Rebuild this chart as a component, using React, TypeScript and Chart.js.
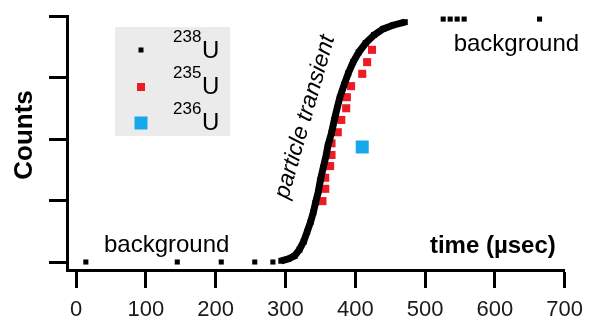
import React, { useEffect, useRef } from 'react';
import { Chart, registerables } from 'chart.js';

Chart.register(...registerables);

const FONT = "'Liberation Sans', Arial, Helvetica, sans-serif";

// axis ticks
const X_TICKS = [0, 100, 200, 300, 400, 500, 600, 700];
const Y_TICKS = [0, 1, 2, 3, 4];

// 238U particle transient (dense curve)
const U238_TRANSIENT_X = [294, 304, 313, 320, 326, 331, 336, 340, 343, 347, 350, 354, 358, 361, 366, 370, 374, 378, 384, 390, 397, 405, 415, 427, 440, 454, 471];
const U238_TRANSIENT_Y = [0.02, 0.05, 0.10, 0.20, 0.33, 0.49, 0.65, 0.81, 0.96, 1.14, 1.33, 1.53, 1.72, 1.90, 2.10, 2.31, 2.50, 2.68, 2.88, 3.07, 3.25, 3.41, 3.56, 3.69, 3.79, 3.85, 3.90];

// 238U background points
const U238_BG_X = [14, 145, 208, 256, 282, 526, 536, 546, 556, 664];
const U238_BG_Y = [0, 0, 0, 0, 0, 3.95, 3.95, 3.95, 3.95, 3.95];

// 235U
const U235_X = [353, 357, 357, 364, 366, 366, 375, 380, 387, 388, 394, 410, 417, 424];
const U235_Y = [0.99, 1.19, 1.37, 1.56, 1.74, 1.93, 2.11, 2.31, 2.50, 2.68, 2.86, 3.06, 3.25, 3.45];

// 236U
const U236_X = [410];
const U236_Y = [1.87];

const LEGEND_ISOTOPES = ['238', '235', '236'];
const COLORS = ['#000000', '#ec1c24', '#17a8ec'];

const toPts = (xs: number[], ys: number[]) => xs.map((x, i) => ({ x, y: ys[i] }));

const overlayPlugin = {
  id: 'overlay',
  afterDraw(chart: any) {
    const ctx = chart.ctx as CanvasRenderingContext2D;
    const xs = chart.scales.x;
    const ys = chart.scales.y;
    ctx.save();
    ctx.fillStyle = '#000';
    ctx.textBaseline = 'alphabetic';
    ctx.textAlign = 'left';

    ctx.font = `24px ${FONT}`;
    ctx.fillText('background', xs.getPixelForValue(541), ys.getPixelForValue(3.43));
    ctx.fillText('background', xs.getPixelForValue(40), ys.getPixelForValue(0.16));

    ctx.font = `bold 24px ${FONT}`;
    ctx.fillText('time (µsec)', xs.getPixelForValue(507), ys.getPixelForValue(0.15));

    // particle transient
    ctx.save();
    ctx.translate(xs.getPixelForValue(337), ys.getPixelForValue(2.33));
    ctx.rotate((-74 * Math.PI) / 180);
    ctx.font = `italic 23px ${FONT}`;
    ctx.textAlign = 'center';
    ctx.fillText('particle transient', 0, 0);
    ctx.restore();

    // y-axis title
    ctx.save();
    ctx.translate(32, 135);
    ctx.rotate(-Math.PI / 2);
    ctx.font = `bold 26px ${FONT}`;
    ctx.textAlign = 'center';
    ctx.fillText('Counts', 0, 0);
    ctx.restore();

    // legend
    ctx.fillStyle = '#ebebeb';
    ctx.fillRect(115, 27, 115, 109);
    const sizes = [5, 8, 13];
    const markerY = [50, 87, 123];
    const uBase = [58, 94, 130];
    LEGEND_ISOTOPES.forEach((iso, i) => {
      ctx.fillStyle = COLORS[i];
      const s = sizes[i];
      ctx.fillRect(141 - s / 2, markerY[i] - s / 2, s, s);
      ctx.fillStyle = '#000';
      ctx.textAlign = 'left';
      ctx.font = `17px ${FONT}`;
      ctx.fillText(iso, 173, uBase[i] - 16);
      ctx.font = `24px ${FONT}`;
      ctx.fillText('U', 202, uBase[i]);
    });
    ctx.restore();
  },
};

export default function App() {
  const ref = useRef<HTMLCanvasElement | null>(null);
  useEffect(() => {
    if (!ref.current) return;
    const chart = new Chart(ref.current, {
      type: 'scatter',
      data: {
        datasets: [
          {
            label: '238U transient',
            data: toPts(U238_TRANSIENT_X, U238_TRANSIENT_Y),
            showLine: true,
            borderColor: COLORS[0],
            borderWidth: 7,
            backgroundColor: COLORS[0],
            pointStyle: 'rect',
            pointRadius: 4.2,
            pointBorderWidth: 0,
            clip: false,
          } as any,
          {
            label: '238U background',
            data: toPts(U238_BG_X, U238_BG_Y),
            backgroundColor: COLORS[0],
            pointStyle: 'rect',
            pointRadius: 3.6,
            pointBorderWidth: 0,
            clip: false,
          } as any,
          {
            label: '235U',
            data: toPts(U235_X, U235_Y),
            backgroundColor: COLORS[1],
            pointStyle: 'rect',
            pointRadius: 5.7,
            pointBorderWidth: 0,
            clip: false,
          } as any,
          {
            label: '236U',
            data: toPts(U236_X, U236_Y),
            backgroundColor: COLORS[2],
            pointStyle: 'rect',
            pointRadius: 9.2,
            pointBorderWidth: 0,
            clip: false,
          } as any,
        ],
      },
      options: {
        responsive: false,
        animation: false,
        layout: { padding: { top: 16, right: 24, left: 0, bottom: 0 } },
        plugins: {
          legend: { display: false },
          tooltip: { enabled: false },
          title: { display: false },
        },
        scales: {
          x: {
            type: 'linear',
            min: -13,
            max: 700,
            afterBuildTicks: (s: any) => {
              s.ticks = X_TICKS.map((v) => ({ value: v }));
            },
            afterFit: (s: any) => {
              s.height = 52;
            },
            grid: {
              drawOnChartArea: false,
              drawTicks: true,
              tickLength: 18,
              tickWidth: 3,
              tickColor: '#000',
            },
            border: { display: true, color: '#000', width: 3 },
            ticks: {
              font: { size: 22, family: FONT },
              color: '#1a1a1a',
              padding: 9,
              maxRotation: 0,
              autoSkip: false,
            },
          },
          y: {
            type: 'linear',
            min: -0.13,
            max: 4,
            afterBuildTicks: (s: any) => {
              s.ticks = Y_TICKS.map((v) => ({ value: v }));
            },
            afterFit: (s: any) => {
              s.width = 67;
            },
            grid: {
              drawOnChartArea: false,
              drawTicks: true,
              tickLength: 18,
              tickWidth: 3,
              tickColor: '#000',
            },
            border: { display: true, color: '#000', width: 3 },
            ticks: { display: false },
          },
        },
      } as any,
      plugins: [overlayPlugin],
    });
    return () => chart.destroy();
  }, []);

  return (
    <div style={{ position: 'fixed', left: 0, top: 0, width: 592, height: 322, background: '#fff' }}>
      <canvas ref={ref} width={592} height={322} style={{ display: 'block', width: 592, height: 322 }} />
    </div>
  );
}
